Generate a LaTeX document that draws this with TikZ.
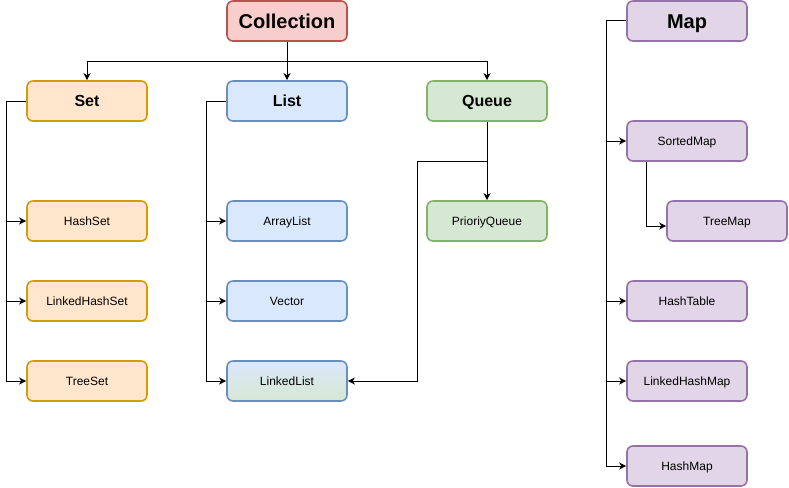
\documentclass[tikz,border=0pt]{standalone}
\usepackage{fontspec}
\setmainfont{Liberation Sans}
\usetikzlibrary{arrows.meta,calc}

\definecolor{redfill}{HTML}{F8CECC}\definecolor{redline}{HTML}{B85450}
\definecolor{orafill}{HTML}{FFE6CC}\definecolor{oraline}{HTML}{D79B00}
\definecolor{blufill}{HTML}{DAE8FC}\definecolor{bluline}{HTML}{6C8EBF}
\definecolor{grnfill}{HTML}{D5E8D4}\definecolor{grnline}{HTML}{82B366}
\definecolor{purfill}{HTML}{E1D5E7}\definecolor{purline}{HTML}{9673A6}

\tikzset{
  box/.style={rounded corners=6pt, line width=1.6pt, minimum width=120pt,
    minimum height=40pt, inner sep=0pt, text height=8.6pt, text depth=0pt,
    font=\fontsize{12}{14}\selectfont},
  head/.style={box, text height=11.5pt, font=\bfseries\fontsize{16}{19}\selectfont},
  bighead/.style={box, text height=14.4pt, font=\bfseries\fontsize{20}{24}\selectfont},
  redbox/.style={fill=redfill, draw=redline},
  orabox/.style={fill=orafill, draw=oraline},
  blubox/.style={fill=blufill, draw=bluline},
  grnbox/.style={fill=grnfill, draw=grnline},
  purbox/.style={fill=purfill, draw=purline},
  mixbox/.style={top color=blufill, bottom color=grnfill, draw=bluline},
  arr/.style={line width=1pt, -{Stealth[length=7pt,width=7pt,inset=2pt]}},
}

\begin{document}
\begin{tikzpicture}[x=1pt,y=-1pt]
\useasboundingbox (0,0) rectangle (789,487);

% top-level interfaces
\node[bighead,redbox] (coll) at (287,21) {Collection};
\node[bighead,purbox] (map)  at (687,21) {Map};

\node[head,orabox] (set)   at (87,101)  {Set};
\node[head,blubox] (list)  at (287,101) {List};
\node[head,grnbox] (queue) at (487,101) {Queue};

% Set implementations
\node[box,orabox] (hashset)  at (87,221) {HashSet};
\node[box,orabox] (lhashset) at (87,301) {LinkedHashSet};
\node[box,orabox] (treeset)  at (87,381) {TreeSet};

% List implementations
\node[box,blubox] (arraylist)  at (287,221) {ArrayList};
\node[box,blubox] (vector)     at (287,301) {Vector};
\node[box,mixbox] (linkedlist) at (287,381) {LinkedList};

% Queue implementations
\node[box,grnbox] (pqueue) at (487,221) {PrioriyQueue};

% Map implementations
\node[box,purbox] (sortedmap) at (687,141) {SortedMap};
\node[box,purbox] (treemap)   at (727,221) {TreeMap};
\node[box,purbox] (hashtable) at (687,301) {HashTable};
\node[box,purbox] (lhashmap)  at (687,381) {LinkedHashMap};
\node[box,purbox] (hashmap)   at (687,466) {HashMap};

% Collection -> sub-interfaces
\draw[arr] (coll.south) -- ++(0,20) -| (set.north);
\draw[arr] (coll.south) -- (list.north);
\draw[arr] (coll.south) -- ++(0,20) -| (queue.north);

% Set branch
\draw[arr] (set.west) -- ++(-20,0) |- (hashset.west);
\draw[arr] (set.west) -- ++(-20,0) |- (lhashset.west);
\draw[arr] (set.west) -- ++(-20,0) |- (treeset.west);

% List branch
\draw[arr] (list.west) -- ++(-20,0) |- (arraylist.west);
\draw[arr] (list.west) -- ++(-20,0) |- (vector.west);
\draw[arr] (list.west) -- ++(-20,0) |- (linkedlist.west);

% Queue branch
\draw[arr] (queue.south) -- (pqueue.north);
\draw[arr] (queue.south) -- ++(0,40) -- ++(-70,0) |- (linkedlist.east);

% Map branch
\draw[arr] (map.west) -- ++(-20,0) |- (sortedmap.west);
\draw[arr] (map.west) -- ++(-20,0) |- (hashtable.west);
\draw[arr] (map.west) -- ++(-20,0) |- (lhashmap.west);
\draw[arr] (map.west) -- ++(-20,0) |- (hashmap.west);
\draw[arr] ($(sortedmap.south)+(-41,0)$) |- ($(treemap.west)+(0,5)$);
\end{tikzpicture}
\end{document}
